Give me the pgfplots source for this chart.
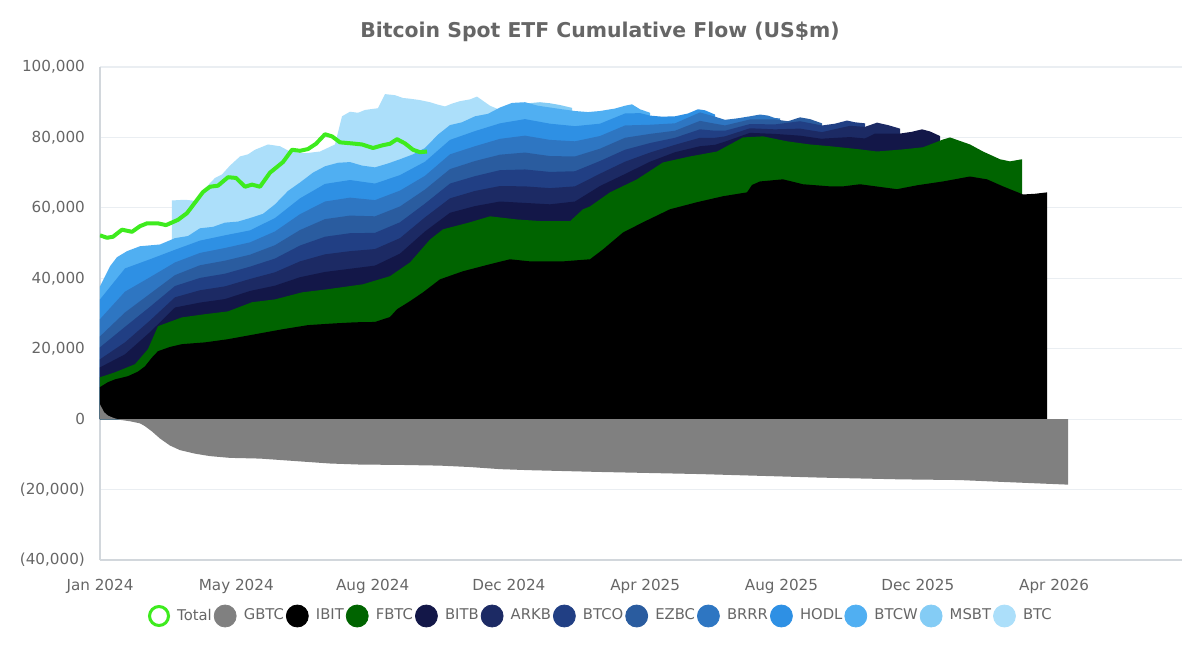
\documentclass[border=0pt]{standalone}
\usepackage{fontspec}
\setmainfont{DejaVu Sans}
\usepackage{pgfplots}
\pgfplotsset{compat=1.18}
\definecolor{totalc}{RGB}{62,235,30}
\definecolor{gbtcc}{RGB}{128,128,128}
\definecolor{ibitc}{RGB}{0,0,0}
\definecolor{fbtcc}{RGB}{0,100,0}
\definecolor{bitbc}{RGB}{19,23,72}
\definecolor{arkbc}{RGB}{28,42,100}
\definecolor{btcoc}{RGB}{33,63,132}
\definecolor{ezbcc}{RGB}{42,92,159}
\definecolor{brrrc}{RGB}{46,118,194}
\definecolor{hodlc}{RGB}{46,144,228}
\definecolor{btcwc}{RGB}{80,175,242}
\definecolor{msbtc}{RGB}{132,204,245}
\definecolor{btcc}{RGB}{172,223,250}
\definecolor{txtc}{RGB}{102,102,102}
\definecolor{gridc}{RGB}{234,238,242}
\definecolor{axc}{RGB}{210,215,220}
\newcommand{\legdot}[1]{\fill[#1] (5.5pt,0pt) circle (5.5pt);}
\begin{document}
\begin{tikzpicture}
\path[use as bounding box] (-50pt,-44pt) rectangle (550pt,280pt);
\node[font=\bfseries\fontsize{10.2}{12}\selectfont, text=txtc] at (250pt,264pt) {Bitcoin Spot ETF Cumulative Flow (US\$m)};
\begin{axis}[
  at={(0pt,0pt)}, anchor=south west,
  scale only axis, width=541pt, height=246.5pt,
  xmin=0, xmax=1082, ymin=-40000, ymax=100000,
  scaled y ticks=false, scaled x ticks=false,
  axis lines*=left,
  axis line style={draw=axc, line width=0.6pt},
  major tick length=0pt,
  ymajorgrids, grid style={draw=gridc, line width=0.6pt},
  ytick={-40000,-20000,0,20000,40000,60000,80000,100000},
  yticklabels={{(40,000)},{(20,000)},0,{20,000},{40,000},{60,000},{80,000},{100,000}},
  xtick={0,136.3,272.6,408.9,545.2,681.5,817.8,954.1},
  xticklabels={Jan 2024,May 2024,Aug 2024,Dec 2024,Apr 2025,Aug 2025,Dec 2025,Apr 2026},
  ticklabel style={font=\fontsize{7.6}{9}\selectfont, text=txtc},
  yticklabel style={xshift=-4pt},
  xticklabel style={yshift=-6pt},
  legend style={at={(0.4620,-0.1136)}, anchor=center, draw=none, fill=none,
    legend columns=13, font=\fontsize{7.4}{9}\selectfont, text=txtc,
    nodes={inner sep=0pt},
    /tikz/every even column/.append style={column sep=1pt},
    /tikz/every odd column/.append style={column sep=3.6pt}},
  legend cell align=left,
]
\addlegendimage{legend image code/.code={\draw[totalc, line width=1.5pt, fill=white] (5.5pt,0pt) circle (4.75pt);}}
\addlegendentry{Total}
\addlegendimage{legend image code/.code={\legdot{gbtcc}}}\addlegendentry{GBTC}
\addlegendimage{legend image code/.code={\legdot{ibitc}}}\addlegendentry{IBIT}
\addlegendimage{legend image code/.code={\legdot{fbtcc}}}\addlegendentry{FBTC}
\addlegendimage{legend image code/.code={\legdot{bitbc}}}\addlegendentry{BITB}
\addlegendimage{legend image code/.code={\legdot{arkbc}}}\addlegendentry{ARKB}
\addlegendimage{legend image code/.code={\legdot{btcoc}}}\addlegendentry{BTCO}
\addlegendimage{legend image code/.code={\legdot{ezbcc}}}\addlegendentry{EZBC}
\addlegendimage{legend image code/.code={\legdot{brrrc}}}\addlegendentry{BRRR}
\addlegendimage{legend image code/.code={\legdot{hodlc}}}\addlegendentry{HODL}
\addlegendimage{legend image code/.code={\legdot{btcwc}}}\addlegendentry{BTCW}
\addlegendimage{legend image code/.code={\legdot{msbtc}}}\addlegendentry{MSBT}
\addlegendimage{legend image code/.code={\legdot{btcc}}}\addlegendentry{BTC}

% BTC
\addplot[fill=btcc, draw=none, forget plot] coordinates {
(72,62100) (85,62300) (95,62000) (105,65500) (115,68500) (122,69500) (130,72000) (140,74600) (148,75200) (155,76500) (168,78000) (180,77500) (190,76000) (205,75500) (220,76000) (235,78000) (242,86000) (250,87300) (258,87000) (265,87800) (278,88300) (285,92300) (295,92000) (303,91200) (310,91000) (320,90600) (330,90000) (338,89300) (345,88800) (352,89600) (360,90300) (370,90800) (377,91600) (384,90200) (390,89000) (400,87800)
} \closedcycle;
% MSBT
\addplot[fill=msbtc, draw=none, forget plot] coordinates {
(420,89500) (440,90000) (450,89700) (460,89200) (472,88400)
} \closedcycle;
% BTCW
\addplot[fill=btcwc, draw=none, forget plot] coordinates {
(0,37700) (10,43400) (17,46000) (27,47700) (40,49100) (60,49600) (75,51400) (88,52000) (100,54200) (113,54600) (125,55800) (138,56100) (150,57100) (163,58300) (175,61000) (188,64800) (200,67200) (213,70000) (225,71800) (238,72800) (250,73000) (262,72000) (275,71500) (288,72600) (300,73800) (313,75200) (325,77000) (338,80800) (350,83500) (362,84300) (375,86000) (388,86700) (400,88500) (412,89800) (425,90000) (438,89000) (450,88500) (462,88000) (475,87500) (488,87200) (500,87500) (515,88200) (525,89000) (532,89400) (540,88000) (550,87000)
} \closedcycle;
% HODL
\addplot[fill=hodlc, draw=none, forget plot] coordinates {
(0,34000) (25,42800) (50,45400) (75,48100) (100,50700) (125,52200) (150,53600) (175,57100) (200,62700) (225,66800) (250,67900) (275,66900) (300,69300) (325,73100) (350,79300) (375,81800) (400,84000) (425,85200) (450,83900) (475,83200) (500,83900) (525,86800) (540,86900) (550,86200) (562,85900) (575,86000) (588,86800) (598,88000) (605,87700) (615,86500)
} \closedcycle;
% BRRR
\addplot[fill=brrrc, draw=none, forget plot] coordinates {
(0,28400) (25,36200) (50,40300) (75,44500) (100,47200) (125,48600) (150,50200) (175,53300) (200,58200) (225,61800) (250,62900) (275,62200) (300,64900) (325,69100) (350,75200) (375,77500) (400,79600) (425,80500) (450,79300) (475,78900) (500,80400) (525,83400) (550,83600) (575,84000) (600,87100) (615,85900) (625,85000) (637,85400) (650,86000) (660,86500) (668,86200) (675,85500) (680,85400)
} \closedcycle;
% EZBC
\addplot[fill=ezbcc, draw=none, forget plot] coordinates {
(0,23500) (25,30300) (50,35600) (75,40900) (100,43700) (125,45000) (150,46700) (175,49400) (200,53700) (225,56800) (250,57800) (275,57600) (300,60400) (325,65200) (350,71000) (375,73300) (400,75100) (425,75700) (450,74700) (475,74600) (500,76800) (525,79900) (550,81000) (575,81900) (600,84700) (615,83900) (625,83400) (650,85100) (675,85100) (688,84600) (700,85700) (710,85200) (722,84000)
} \closedcycle;
% BTCO
\addplot[fill=btcoc, draw=none, forget plot] coordinates {
(0,20400) (25,26200) (50,31900) (75,37800) (100,40100) (125,41300) (150,43300) (175,45600) (200,49300) (225,51800) (250,52800) (275,52900) (300,55900) (325,61200) (350,66900) (375,69000) (400,70700) (425,70900) (450,70200) (475,70400) (500,73300) (525,76500) (550,78400) (575,79900) (600,82300) (615,81900) (625,81900) (650,83800) (675,83700) (700,84600) (722,83400) (735,83900) (747,84800) (755,84300) (765,84000)
} \closedcycle;
% ARKB
\addplot[fill=arkbc, draw=none, forget plot] coordinates {
(0,17000) (25,21800) (50,28000) (75,34600) (100,36600) (125,37700) (150,39800) (175,41700) (200,44800) (225,46800) (250,47700) (275,48300) (300,51400) (325,57300) (350,62700) (375,64800) (400,66200) (425,66100) (450,65600) (475,66100) (500,69700) (525,73100) (550,75700) (575,77900) (600,79900) (615,79900) (625,80300) (650,82600) (675,82300) (700,82500) (722,81500) (725,81700) (750,83300) (765,83000) (777,84200) (788,83500) (800,82500)
} \closedcycle;
% BITB
\addplot[fill=bitbc, draw=none, forget plot] coordinates {
(0,14700) (25,18400) (50,24700) (75,31700) (100,33100) (125,34100) (150,36400) (175,37900) (200,40300) (225,41800) (250,42700) (275,43600) (300,47000) (325,53300) (350,58600) (375,60500) (400,61800) (425,61400) (450,61000) (475,61800) (500,66200) (525,69600) (550,73100) (575,75800) (600,77500) (615,77900) (625,78800) (650,81300) (675,81000) (700,80500) (722,79600) (725,79700) (750,80100) (765,79700) (775,81100) (800,81100) (812,81600) (822,82300) (830,81700) (840,80400)
} \closedcycle;
% FBTC
\addplot[fill=fbtcc, draw=none, forget plot] coordinates {
(0,11900) (15,13300) (35,15600) (48,19900) (58,26400) (82,28900) (105,29800) (128,30600) (152,33200) (175,34000) (202,36000) (228,36900) (263,38300) (290,40600) (310,44500) (330,51000) (343,53900) (370,55900) (390,57600) (417,56700) (443,56200) (470,56200) (483,59600) (490,60400) (510,64400) (537,68100) (563,72900) (590,74600) (617,76000) (643,80000) (663,80300) (687,78900) (710,78000) (730,77500) (760,76600) (777,76000) (803,76600) (823,77200) (843,79400) (850,80000) (870,78000) (883,76000) (900,73800) (910,73200) (922,73800)
} \closedcycle;
% IBIT
\addplot[fill=ibitc, draw=none, forget plot] coordinates {
(0,9100) (8,10500) (15,11300) (28,12200) (38,13500) (45,15000) (52,17500) (58,19300) (70,20500) (82,21300) (105,21800) (128,22700) (155,24100) (182,25500) (208,26700) (235,27200) (255,27500) (275,27600) (290,29000) (297,31200) (310,33500) (323,36000) (340,39700) (363,42000) (390,44000) (410,45400) (430,44800) (463,44800) (490,45400) (503,48200) (523,53000) (543,55900) (570,59600) (597,61600) (623,63300) (647,64400) (652,66500) (660,67500) (683,68100) (703,66700) (730,66100) (743,66100) (760,66700) (797,65300) (817,66400) (843,67500) (870,68900) (887,68100) (903,66100) (923,63800) (935,64000) (947,64400)
} \closedcycle;
% GBTC
\addplot[fill=gbtcc, draw=none, forget plot] coordinates {
(0,4200) (4,2000) (8,1000) (14,300) (20,-200) (30,-600) (40,-1200) (45,-2000) (52,-3500) (60,-5500) (70,-7500) (80,-8800) (95,-9800) (110,-10500) (130,-11000) (160,-11200) (180,-11600) (200,-12000) (230,-12600) (260,-12900) (300,-13000) (340,-13200) (370,-13600) (400,-14200) (430,-14500) (500,-15000) (600,-15600) (660,-16100) (720,-16600) (800,-17100) (860,-17300) (900,-17800) (968,-18600)
} \closedcycle;
% Total
\addplot[draw=totalc, line width=2pt, line join=round, forget plot] coordinates {
(0,52200) (7,51500) (13,51800) (22,53800) (32,53200) (40,54800) (47,55600) (58,55600) (66,55100) (78,56600) (87,58500) (95,61500) (103,64500) (110,66000) (118,66300) (128,68700) (136,68500) (145,66000) (152,66600) (160,66000) (170,70000) (183,73000) (192,76500) (200,76200) (208,76700) (216,78200) (225,80900) (232,80300) (240,78600) (252,78300) (262,78000) (273,77000) (283,77800) (290,78200) (297,79500) (305,78300) (313,76500) (320,75800) (327,76000)
};
\end{axis}
\end{tikzpicture}
\end{document}
